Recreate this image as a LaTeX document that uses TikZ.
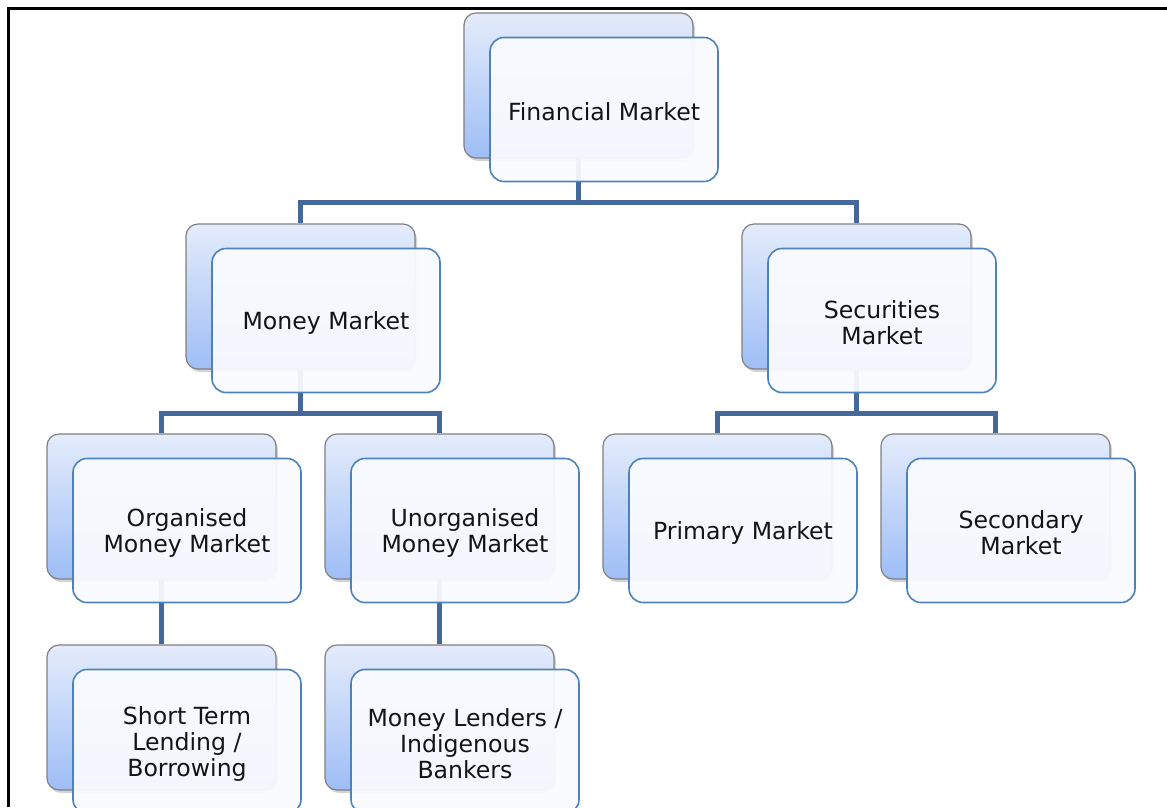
\documentclass[tikz,border=0pt]{standalone}
\usepackage{fontspec}
\setmainfont{DejaVu Sans}
\usetikzlibrary{backgrounds,shadows}
\definecolor{linkblue}{RGB}{68,104,154}
\definecolor{frontline}{RGB}{79,129,189}
\definecolor{frontfill}{RGB}{249,251,254}
\definecolor{backtop}{RGB}{228,236,251}
\definecolor{backbot}{RGB}{158,190,246}
\definecolor{backline}{RGB}{128,128,128}

\begin{document}
\begin{tikzpicture}[x=1pt,y=-1pt,
	backbox/.style={draw=backline,line width=1.2pt,rounded corners=12pt,
		top color=backtop,bottom color=backbot,minimum width=229pt,minimum height=145pt,
		drop shadow={shadow xshift=2pt,shadow yshift=-3pt,opacity=.35}},
	frontbox/.style={draw=frontline,line width=1.6pt,rounded corners=14pt,
		fill=frontfill,fill opacity=.94,minimum width=228pt,minimum height=144pt},
	boxtext/.style={align=center,text=black!92,font=\fontsize{23.6}{26}\selectfont},
	link/.style={draw=linkblue,line width=4.5pt}]
\useasboundingbox (0,0) rectangle (1167,807);
\clip (0,0) rectangle (1167,807);
\draw[line width=2.5pt] (8.5,807) -- (8.5,8.5) -- (1167,8.5);
\foreach \nm/\px/\py/\txt in {fin/578.5/85.5/Financial Market,
	mon/300.5/296.5/Money Market,
	sec/856.5/296.5/{Securities\\Market},
	org/161.5/506.5/{Organised\\Money Market},
	unorg/439.5/506.5/{Unorganised\\Money Market},
	prim/717.5/506.5/Primary Market,
	secd/995.5/506.5/{Secondary\\Market},
	stl/161.5/717.5/{Short Term\\Lending /\\Borrowing},
	mlend/439.5/717.5/{Money Lenders /\\Indigenous\\Bankers}}{
	\node[backbox] (\nm b) at (\px,\py) {};
	\node[frontbox] (\nm) at ([shift={(25.5,24)}]\nm b.center) {};
	\node[boxtext] (\nm t) at ([yshift=-2.5pt]\nm.center) {\txt};
}
\begin{scope}[on background layer]
\foreach \p/\c in {fin/mon,fin/sec,mon/org,mon/unorg,sec/prim,sec/secd,org/stl,unorg/mlend}{
	\draw[link] (\p b.south) -- ++(0,44) -| (\c b.north);
}
\end{scope}
\end{tikzpicture}
\end{document}
